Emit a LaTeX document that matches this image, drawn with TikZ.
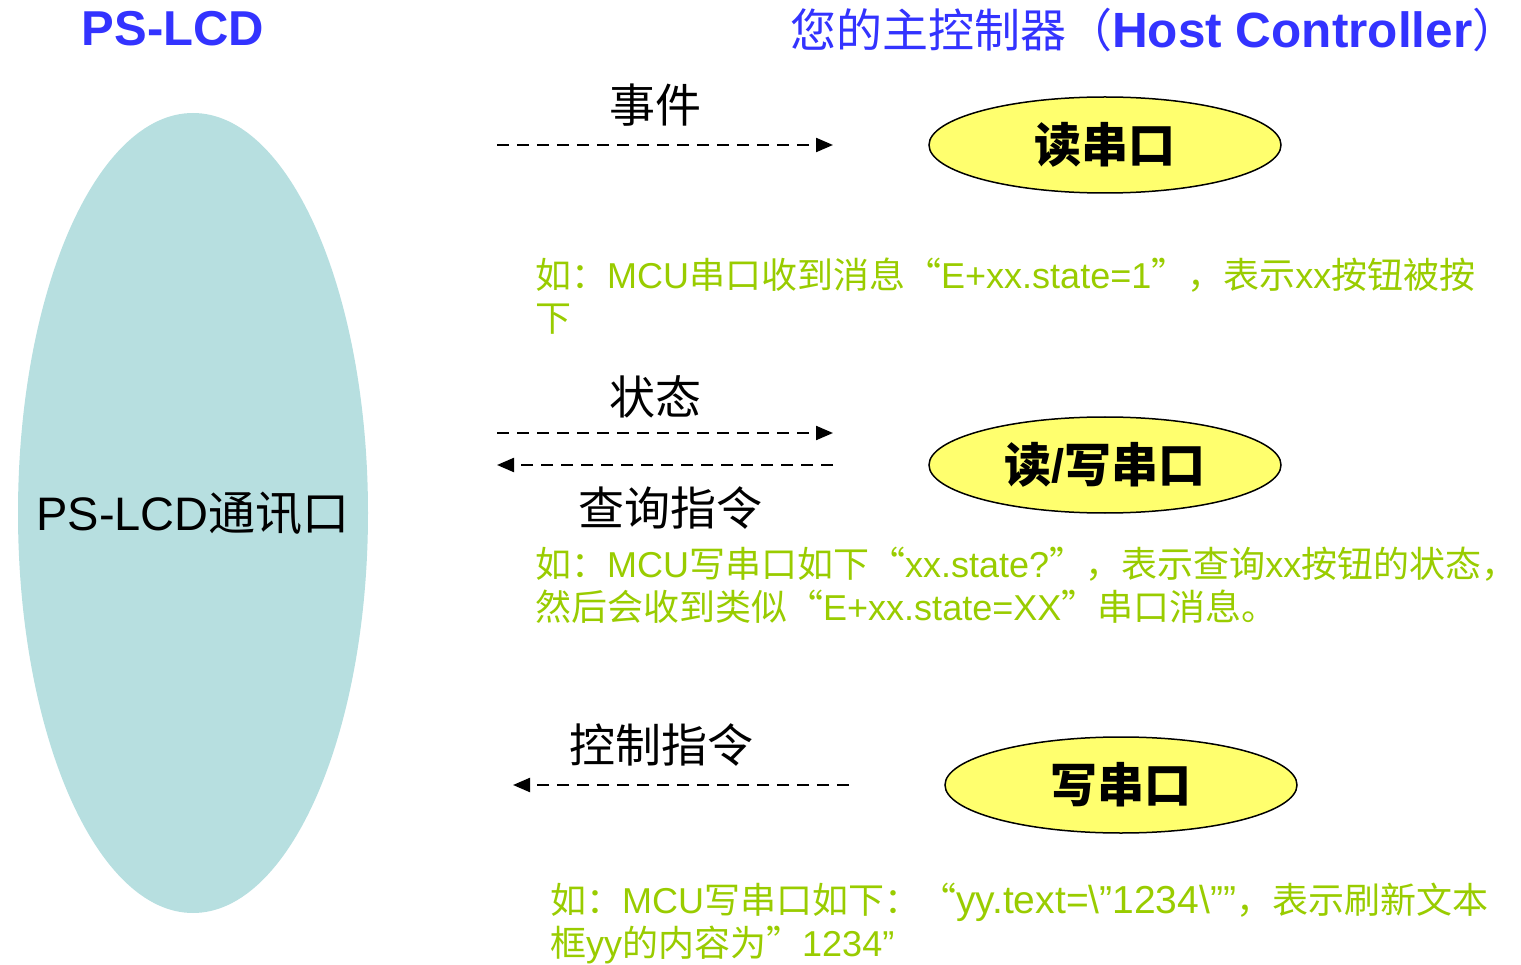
\documentclass[tikz,border=0pt]{standalone}
\usepackage{fontspec}
\setmainfont{Liberation Sans}
\newfontfamily\cjk{Noto Sans CJK SC}
\usetikzlibrary{arrows.meta,shapes.geometric}
\definecolor{tblue}{HTML}{3333FF}
\definecolor{lcdfill}{HTML}{B7DFE0}
\definecolor{portfill}{HTML}{FFFF6E}
\definecolor{notegreen}{HTML}{99CC00}
\newcommand\zh[1]{{\cjk #1}}
\tikzset{
  titletext/.style={text=tblue, inner sep=0, font=\fontsize{46}{46}\selectfont},
  msglabel/.style={inner sep=0, font=\fontsize{46}{46}\selectfont\cjk},
  portbox/.style={ellipse, draw=black, line width=1.5pt, fill=portfill, minimum width=352pt, minimum height=96pt, inner sep=0, font=\fontsize{47}{47}\selectfont\bfseries},
  dasharrow/.style={line width=2.2pt, dash pattern=on 12pt off 8pt, -{Triangle[length=17pt,width=14pt]}},
  notetext/.style={text=notegreen, inner sep=0, anchor=base west, font=\fontsize{36}{43}\selectfont}
}
\begin{document}
\begin{tikzpicture}[x=1pt,y=-1pt]
\useasboundingbox (0,0) rectangle (1521,965);
% titles
\node[titletext, font=\fontsize{49}{49}\selectfont\bfseries] (tlcd) at (173,29) {PS-LCD};
\node[titletext, anchor=west] (thost) at (790,30) {\zh{您的主控制器（}{\fontsize{49.5}{49}\selectfont\bfseries Host Controller}\rlap{\zh{）}}};
% left ellipse
\node[ellipse, fill=lcdfill, minimum width=350pt, minimum height=800pt, inner sep=0] (lcd) at (193,513) {};
\node[inner sep=0, font=\fontsize{47}{47}\selectfont] (lcdtext) at (lcd.center) {PS-LCD\zh{通讯口}};
% ports
\node[portbox] (rd) at (1105,145) {\zh{读串口}};
\node[portbox] (rw) at (1105,465) {\zh{读}/\zh{写串口}};
\node[portbox] (wr) at (1121,785) {\zh{写串口}};
% labels
\node[msglabel] (lev) at (655,105) {事件};
\node[msglabel] (lst) at (655,397) {状态};
\node[msglabel] (lq) at (670,508) {查询指令};
\node[msglabel] (lc) at (661,745) {控制指令};
% arrows
\coordinate (a1s) at (497,145); \coordinate (a1e) at (833,145);
\coordinate (a2s) at (497,433); \coordinate (a2e) at (833,433);
\coordinate (a3s) at (833,465); \coordinate (a3e) at (497,465);
\coordinate (a4s) at (849,785); \coordinate (a4e) at (513,785);
\draw[dasharrow] (a1s) -- (a1e);
\draw[dasharrow] (a2s) -- (a2e);
\draw[dasharrow] (a3s) -- (a3e);
\draw[dasharrow] (a4s) -- (a4e);
% notes
\node[notetext] (n1a) at (535,289) {\zh{如：}MCU\zh{串口收到消息“}E+xx.state=1\zh{”，表示}xx\zh{按钮被按}};
\node[notetext] (n1b) at (535,332) {\zh{下}};
\node[notetext] (n2a) at (535,577) {\zh{如：}MCU\zh{写串口如下“}xx.state?\zh{”，表示查询}xx\zh{按钮的状态，}};
\node[notetext] (n2b) at (535,620) {\zh{然后会收到类似“}E+xx.state=XX\zh{”串口消息。}};
\node[notetext] (n3a) at (550,913) {\zh{如：}MCU\zh{写串口如下：“}{\fontsize{39}{43}\selectfont yy.text=\textbackslash”1234\textbackslash””}\zh{，表示刷新文本}};
\node[notetext] (n3b) at (550,956) {\zh{框}yy\zh{的内容为”}1234”};
\end{tikzpicture}
\end{document}
